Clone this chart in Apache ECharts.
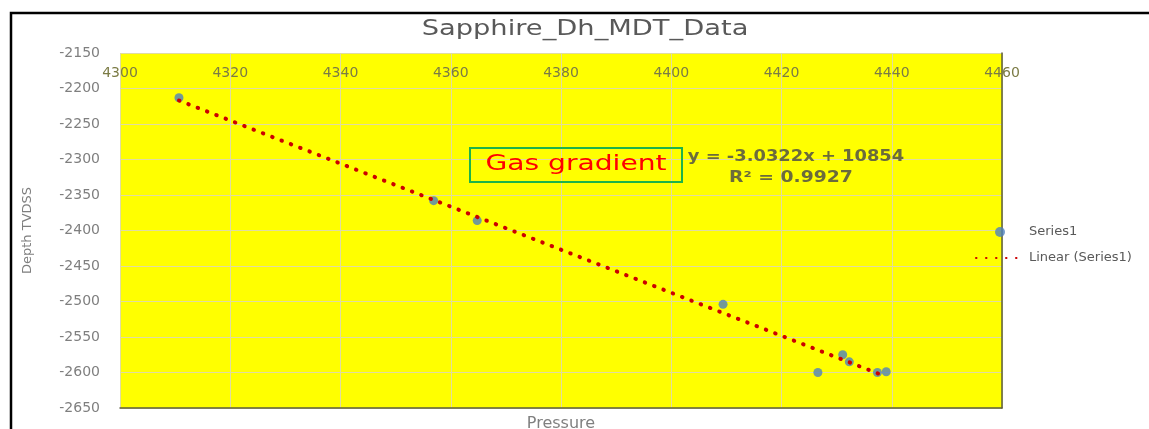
<!DOCTYPE html>
<html>
<head>
<meta charset="utf-8">
<script src="https://cdn.jsdelivr.net/npm/echarts@6/dist/echarts.min.js"></script>
<style>
  html, body { margin: 0; padding: 0; background: #ffffff; }
  #chart { width: 1149px; height: 429px; }
</style>
</head>
<body>
<div id="chart"></div>
<script>
// ---- Data ----
const pressure = [4310.7, 4356.9, 4364.8, 4409.4, 4426.6, 4431.1, 4432.3, 4437.4, 4439.0];
const depth    = [-2213, -2358, -2386, -2504, -2600, -2575, -2585, -2600, -2599];

// Trendline equation shown on the chart (Excel linear trendline)
const trendSlope = -3.0322;
const trendIntercept = 10854;
const trendLabel = 'y = -3.0322x + 10854';
const r2Label = 'R² = 0.9927';

// Axis ranges / ticks
const xMin = 4300, xMax = 4460, xStep = 20;
const yMin = -2650, yMax = -2150, yStep = 50;

const titleText = 'Sapphire_Dh_MDT_Data';
const annotationText = 'Gas gradient';
const xName = 'Pressure';
const yName = 'Depth TVDSS';
const seriesName = 'Series1';
const trendName = 'Linear (Series1)';

// Build series data
const points = pressure.map((p, i) => [p, depth[i]]);
const tx0 = Math.min(...pressure), tx1 = Math.max(...pressure);
const trendPoints = [[tx0, trendSlope * tx0 + trendIntercept], [tx1, trendSlope * tx1 + trendIntercept]];

const FONT = '"DejaVu Sans", "Liberation Sans", sans-serif';
const plain = v => String(v);

const chart = echarts.init(document.getElementById('chart'), null, { renderer: 'canvas' });

const option = {
  backgroundColor: '#ffffff',
  animation: false,
  grid: {
    left: 120, top: 53, right: 147, bottom: 21,
    outerBoundsMode: 'none', containLabel: false,
    show: true, backgroundColor: '#ffff00', borderWidth: 0
  },
  legend: {
    orient: 'vertical',
    left: 975, top: 225,
    padding: 0,
    itemWidth: 48, itemHeight: 10, itemGap: 12,
    textStyle: { color: '#595959', fontSize: 13, fontFamily: FONT, lineHeight: 14 },
    data: [
      { name: seriesName, icon: 'circle' },
      { name: trendName, icon: 'inherit', itemStyle: { opacity: 0 } }
    ]
  },
  xAxis: [
    {
      type: 'value', position: 'top',
      min: xMin, max: xMax, interval: xStep,
      axisLine: { show: false }, axisTick: { show: false },
      axisLabel: { inside: true, margin: 13, color: '#7b7b45', fontSize: 14, fontFamily: FONT, formatter: plain },
      splitLine: { show: true, lineStyle: { color: '#e0dca0', width: 1 } }
    },
    {
      type: 'value', position: 'bottom',
      min: xMin, max: xMax, interval: xStep,
      axisLine: { show: true, onZero: false, lineStyle: { color: '#5e5e3e', width: 1.5 } },
      axisTick: { show: false }, axisLabel: { show: false }, splitLine: { show: false },
      name: xName, nameLocation: 'middle', nameGap: 8,
      nameTextStyle: { color: '#808080', fontSize: 16, fontFamily: FONT }
    }
  ],
  yAxis: [
    {
      type: 'value', position: 'left',
      min: yMin, max: yMax, interval: yStep,
      axisLine: { show: false }, axisTick: { show: false },
      axisLabel: { margin: 20, color: '#7f7f7f', fontSize: 14, fontFamily: FONT, formatter: plain },
      splitLine: { show: true, lineStyle: { color: '#e0dca0', width: 1 } },
      name: yName, nameLocation: 'middle', nameGap: 86, nameRotate: 90,
      nameTextStyle: { color: '#7f7f7f', fontSize: 13, fontFamily: FONT }
    },
    {
      type: 'value', position: 'right',
      min: yMin, max: yMax, interval: yStep,
      axisLine: { show: true, onZero: false, lineStyle: { color: '#5e5e3e', width: 1.5 } },
      axisTick: { show: false }, axisLabel: { show: false }, splitLine: { show: false }
    }
  ],
  series: [
    {
      name: trendName, type: 'line',
      xAxisIndex: 0, yAxisIndex: 0,
      data: trendPoints,
      symbol: 'none', showSymbol: false,
      lineStyle: { color: '#cc0000', width: 4, type: [0.5, 9.5], cap: 'round' },
      itemStyle: { color: '#cc0000' },
      z: 3
    },
    {
      name: seriesName, type: 'scatter',
      xAxisIndex: 0, yAxisIndex: 0,
      data: points,
      symbol: 'circle', symbolSize: 9,
      itemStyle: { color: '#4f81bd' },
      z: 2
    }
  ],
  graphic: [
    {
      type: 'rect', z: 100, silent: true,
      shape: { x: 11, y: 13, width: 1300, height: 600 },
      style: { fill: 'none', stroke: '#000000', lineWidth: 2.5 }
    },
    {
      type: 'text', z: 100, x: 585, y: 30, scaleX: 1.3,
      style: { text: titleText, font: '21px ' + FONT, fill: '#595959', textAlign: 'center', textVerticalAlign: 'middle', align: 'center', verticalAlign: 'middle' }
    },
    {
      type: 'rect', z: 100, silent: true,
      shape: { x: 470, y: 148, width: 212, height: 34 },
      style: { fill: 'none', stroke: '#1db34a', lineWidth: 2 }
    },
    {
      type: 'text', z: 100, x: 576, y: 165, scaleX: 1.34,
      style: { text: annotationText, font: '21px ' + FONT, fill: '#ff0000', textAlign: 'center', textVerticalAlign: 'middle', align: 'center', verticalAlign: 'middle' }
    },
    {
      type: 'text', z: 100, x: 796, y: 157, scaleX: 1.19,
      style: { text: trendLabel, font: 'bold 15px ' + FONT, fill: '#6b6b3c', textAlign: 'center', textVerticalAlign: 'middle', align: 'center', verticalAlign: 'middle' }
    },
    {
      type: 'text', z: 100, x: 791, y: 178, scaleX: 1.25,
      style: { text: r2Label, font: 'bold 15px ' + FONT, fill: '#6b6b3c', textAlign: 'center', textVerticalAlign: 'middle', align: 'center', verticalAlign: 'middle' }
    }
  ]
};

chart.setOption(option);
</script>
</body>
</html>
